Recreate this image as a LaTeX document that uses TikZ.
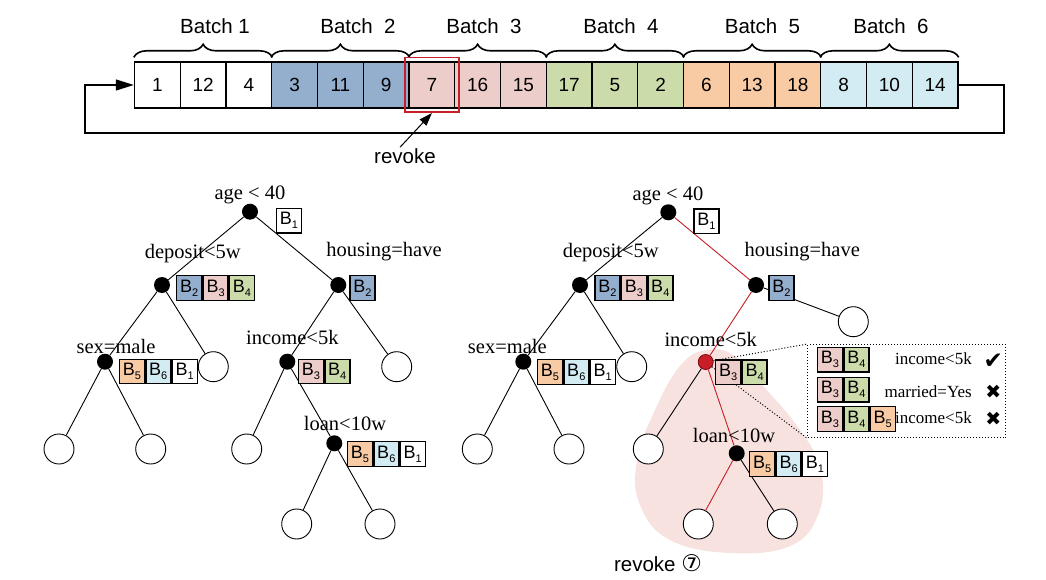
\documentclass[tikz,border=0pt]{standalone}
\usepackage{fontspec}
\setmainfont{Liberation Serif}
\setsansfont{Liberation Sans}
\newfontfamily\dejavu{DejaVu Sans}
\usetikzlibrary{arrows.meta,decorations.pathreplacing,fit,calc}
\definecolor{cblue}{RGB}{148,174,206}
\definecolor{cpink}{RGB}{237,205,202}
\definecolor{cgreen}{RGB}{203,220,170}
\definecolor{corange}{RGB}{248,203,164}
\definecolor{ccyan}{RGB}{211,235,242}
\definecolor{cred}{RGB}{200,30,40}
\definecolor{cdred}{RGB}{120,10,15}
\definecolor{blobc}{RGB}{247,226,224}
\newcommand\Bsub[1]{{\sffamily\fontsize{18}{18}\selectfont B\raisebox{-0.22em}{\fontsize{11}{11}\selectfont #1}}}
\newcommand\boxrow[3]{%
  \foreach \cc/\dd [count=\jj] in {#3} {%
    \ifnum\jj=1
      \node[bx,fill=\cc,anchor=north west] (#1-\jj) at (#2) {\Bsub{\dd}};
    \else
      \pgfmathtruncatemacro\pp{\jj-1}%
      \node[bx,fill=\cc,anchor=west] (#1-\jj) at (#1-\pp.east) {\Bsub{\dd}};
    \fi
  }}
\begin{document}
\begin{tikzpicture}[x=1pt,y=-1pt,
  cell/.style={draw,line width=1.4pt,minimum width=45.75pt,minimum height=46pt,inner sep=0pt,font=\sffamily\fontsize{19}{19}\selectfont},
  bx/.style={draw,line width=1.4pt,minimum width=25pt,minimum height=24.5pt,inner sep=0pt},
  bnode/.style={circle,fill=black,minimum size=16pt,inner sep=0pt},
  rnode/.style={circle,fill=cred,draw=cdred,line width=0.8pt,minimum size=15pt,inner sep=0pt},
  leaf/.style={circle,draw,fill=white,line width=0.9pt,minimum size=30pt,inner sep=0pt},
  lab/.style={inner sep=0pt,font=\fontsize{20.5}{20.5}\selectfont},
  clab/.style={inner sep=0pt,font=\fontsize{17}{17}\selectfont,anchor=east},
  tickmk/.style={inner sep=0pt,font=\dejavu\fontsize{23}{23}\selectfont},
  crossmk/.style={inner sep=0pt,font=\dejavu\fontsize{19}{19}\selectfont},
  blab/.style={inner sep=0pt,font=\sffamily\fontsize{20.5}{20.5}\selectfont},
  brace/.style={decorate,decoration={brace,amplitude=13pt,raise=4pt},line width=1.6pt},
  edge/.style={line width=0.9pt},
  redge/.style={line width=0.9pt,draw=cred},
]
\useasboundingbox (0,0) rectangle (1046,580);

% background blob
\fill[blobc] plot[smooth cycle,tension=0.7] coordinates {(706,350) (680,366) (655,410) (637,460) (640,505) (670,540) (730,553) (790,546) (818,515) (821,470) (800,430) (765,388) (735,356)};

% ---------- top row ----------
\foreach \i/\n/\c in {1/1/white,2/12/white,3/4/white,4/3/cblue,5/11/cblue,6/9/cblue,
  7/7/cpink,8/16/cpink,9/15/cpink,10/17/cgreen,11/5/cgreen,12/2/cgreen,
  13/6/corange,14/13/corange,15/18/corange,16/8/ccyan,17/10/ccyan,18/14/ccyan}
  \node[cell,fill=\c] (c\i) at ({134.5+45.75*(\i-0.5)},85) {\n};
\foreach \k in {1,...,6} {
  \pgfmathtruncatemacro\a{3*\k-2}\pgfmathtruncatemacro\b{3*\k}
  \draw[brace] (c\a.north west) -- (c\b.north east);
}
\node[blab] (bt1) at (215,26) {Batch 1};
\node[blab] (bt2) at (358,26) {Batch\ \ 2};
\node[blab] (bt3) at (484,26) {Batch\ \ 3};
\node[blab] (bt4) at (621,26) {Batch\ \ 4};
\node[blab] (bt5) at (762.5,26) {Batch\ \ 5};
\node[blab] (bt6) at (891,26) {Batch\ \ 6};
\node[draw=cred,line width=1.6pt,fit=(c7),inner sep=3.6pt] (redbox) {};
\coordinate (lr) at (1004,133);
\coordinate (ll) at (85,133);
\draw[line width=1.4pt,-{Triangle[length=18pt,width=11pt]}] (c18.east) -| (lr) -- (ll) |- (c1.west);
\node[blab,inner sep=1pt] (rv) at (405,156) {revoke};
\draw[line width=1pt,-{Triangle[length=13pt,width=9pt]}] ([xshift=-5pt]rv.north) -- (redbox.south);

% ---------- left tree ----------
\node[bnode] (L0) at (250,211.7) {};
\node[bnode] (L1) at (162,285) {};
\node[bnode] (L2) at (338.3,285) {};
\node[bnode] (L3) at (105,361.7) {};
\node[leaf]  (L4) at (213.3,366.7) {};
\node[bnode] (L5) at (287.3,361.7) {};
\node[leaf]  (L6) at (396.7,366.7) {};
\node[leaf]  (L7) at (59,449) {};
\node[leaf]  (L8) at (150.7,449) {};
\node[leaf]  (L9) at (246.7,449) {};
\node[bnode] (L10) at (334.3,443.3) {};
\node[leaf]  (L11) at (296.7,524) {};
\node[leaf]  (L12) at (380,524) {};
\draw[edge] (L0) -- (L1); \draw[edge] (L0) -- (L2);
\draw[edge] (L1) -- (L3); \draw[edge] (L1) -- (L4);
\draw[edge] (L2) -- (L5); \draw[edge] (L2) -- (L6);
\draw[edge] (L3) -- (L7); \draw[edge] (L3) -- (L8);
\draw[edge] (L5) -- (L9); \draw[edge] (L5) -- (L10);
\draw[edge] (L10) -- (L11); \draw[edge] (L10) -- (L12);
\node[lab] (la0) at (250,195) {age < 40};
\node[lab] (la1) at (192.7,253.3) {deposit<5w};
\node[lab] (la2) at (384,251.7) {housing=have};
\node[lab] (la3) at (116,346.7) {sex=male};
\node[lab] (la5) at (292.3,337.3) {income<5k};
\node[lab] (la10) at (345,423.3) {loan<10w};
\boxrow{lb0}{275.7,207.7}{white/1}
\boxrow{lb1}{176,275}{cblue/2,cpink/3,cgreen/4}
\boxrow{lb2}{349.3,275}{cblue/2}
\boxrow{lb3}{118.7,358.5}{corange/5,ccyan/6,white/1}
\boxrow{lb5}{297.7,358.5}{cpink/3,cgreen/4}
\boxrow{lb10}{346.7,441}{corange/5,ccyan/6,white/1}

% ---------- right tree ----------
\node[bnode] (R0) at (668.3,212.3) {};
\node[bnode] (R1) at (580,285) {};
\node[bnode] (R2) at (756,285) {};
\node[bnode] (R3) at (523.3,361.7) {};
\node[leaf]  (R4) at (631.7,366.7) {};
\node[rnode] (R5) at (705.7,362) {};
\node[leaf]  (R6) at (853.3,321.7) {};
\node[leaf]  (R7) at (477.3,449) {};
\node[leaf]  (R8) at (569,449) {};
\node[leaf]  (R9) at (648.3,449) {};
\node[bnode] (R10) at (736.7,453.3) {};
\node[leaf]  (R11) at (698.3,524) {};
\node[leaf]  (R12) at (782.3,524) {};
\draw[edge] (R0) -- (R1); \draw[redge] (R0) -- (R2);
\draw[edge] (R1) -- (R3); \draw[edge] (R1) -- (R4);
\draw[redge] (R2) -- (R5); \draw[edge] (R2) -- (R6);
\draw[edge] (R3) -- (R7); \draw[edge] (R3) -- (R8);
\draw[edge] (R5) -- (R9); \draw[redge] (R5) -- (R10);
\draw[redge] (R10) -- (R11); \draw[edge] (R10) -- (R12);
\node[lab] (ra0) at (668,195.7) {age < 40};
\node[lab] (ra1) at (610.7,253) {deposit<5w};
\node[lab] (ra2) at (802.3,251.7) {housing=have};
\node[lab] (ra3) at (507.3,346.7) {sex=male};
\node[lab] (ra5) at (710.7,339.3) {income<5k};
\node[lab] (ra10) at (734,435) {loan<10w};
\boxrow{rb0}{693.3,208.3}{white/1}
\boxrow{rb1}{594.3,275}{cblue/2,cpink/3,cgreen/4}
\boxrow{rb2}{768.3,275}{cblue/2}
\boxrow{rb3}{536.7,359}{corange/5,ccyan/6,white/1}
\boxrow{rb10}{749,451}{corange/5,ccyan/6,white/1}

% ---------- callout ----------
\node[draw,dotted,line width=1pt,minimum width=197.7pt,minimum height=93.3pt,inner sep=0pt,anchor=north west] (cb) at (807.3,344) {};
\draw[dotted,line width=1pt] (R5) -- (cb.north west);
\draw[dotted,line width=1pt] (R5) -- (cb.south west);
\boxrow{rb5}{715,359.3}{cpink/3,cgreen/4}
\boxrow{cr1}{816.7,346.7}{cpink/3,cgreen/4}
\boxrow{cr2}{816.7,376.7}{cpink/3,cgreen/4}
\boxrow{cr3}{816.7,406}{cpink/3,cgreen/4,corange/5}
\node[clab] (ct1) at (972,358.3) {income<5k};
\node[clab] (ct2) at (972,391.7) {married=Yes};
\node[clab] (ct3) at (972,418) {income<5k};
\node[tickmk] (m1) at (993.3,361) {✔};
\node[crossmk] (m2) at (993.3,391.7) {✖};
\node[crossmk] (m3) at (993.3,419.3) {✖};

\node[blab] (rv2) at (658,563.3) {revoke\ {\dejavu\fontsize{23}{23}\selectfont ⑦}};
\end{tikzpicture}
\end{document}
